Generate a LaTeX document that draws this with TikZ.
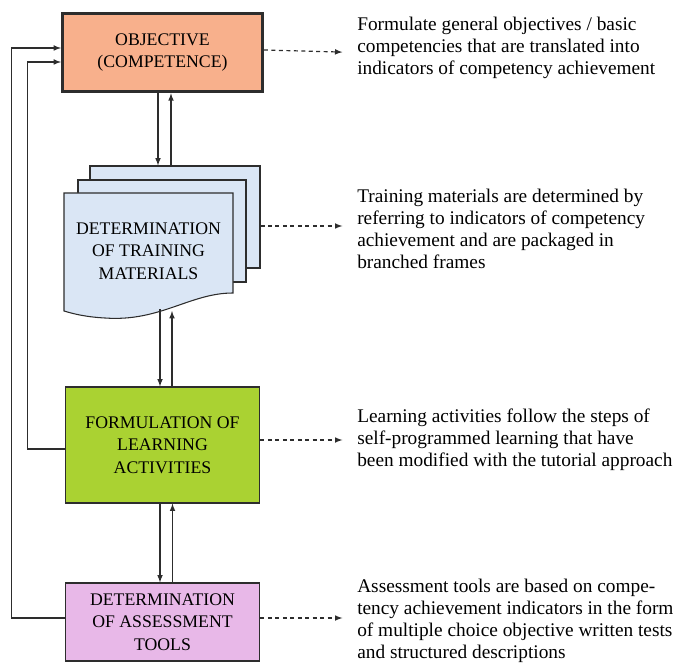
\documentclass[tikz,border=0pt]{standalone}
\usepackage{fontspec}
\setmainfont{Liberation Serif}
\usetikzlibrary{calc}

\definecolor{objfill}{RGB}{248,176,140}
\definecolor{matfill}{RGB}{218,230,245}
\definecolor{actfill}{RGB}{170,210,50}
\definecolor{evalfill}{RGB}{232,184,232}
\definecolor{edge}{RGB}{45,45,45}

\begin{document}
\begin{tikzpicture}[
            x=0.75pt, y=-0.75pt,
            >=latex,
            box/.style={draw=edge, line width=0.9pt, align=center, inner sep=0pt,
                font=\fontsize{13.3}{16.8}\selectfont},
            sheet/.style={draw=edge, line width=0.8pt, fill=matfill},
            flow/.style={->, draw=edge, line width=0.9pt},
            link/.style={->, draw=edge, line width=0.9pt,
                dash pattern=on 3pt off 2.6pt, shorten >=11pt},
            note/.style={anchor=west, align=left, inner sep=0pt,
                font=\fontsize{14.5}{16.5}\selectfont}
        ]
            \useasboundingbox (0,0) rectangle (677,666);

            % --- Objective (competence) ---
            \node[box, line width=2.2pt, fill=objfill, minimum width=150pt, minimum height=59pt]
                (obj) at (162.5,52.5) {OBJECTIVE\\(COMPETENCE)};

            % --- Training materials (stack of sheets) ---
            \node[sheet, minimum width=127.5pt, minimum height=76.5pt] (back) at (175,217) {};
            \node[sheet, minimum width=126pt, minimum height=76.5pt] (middle) at (162,231) {};
            \draw[sheet] (64,193) -- (233,193) -- (233,293)
                .. controls (190,293) and (160,322) .. (105,318)
                .. controls (86,317) and (74,314) .. (64,311) -- cycle;
            \node[box, draw=none] (mat) at (148.5,251) {DETERMINATION\\OF TRAINING\\MATERIALS};
            \coordinate (matbot) at (166,309);

            % --- Learning activities ---
            \node[box, fill=actfill, minimum width=146pt, minimum height=87pt]
                (act) at (162.5,445) {FORMULATION OF\\LEARNING\\ACTIVITIES};

            % --- Assessment tools ---
            \node[box, fill=evalfill, minimum width=146pt, minimum height=58.5pt]
                (eval) at (162.5,622) {DETERMINATION\\OF ASSESSMENT\\TOOLS};

            % --- Arrows down and up between the steps ---
            \draw[flow] ($(obj.south)+(-4.5,0)$) -- ($(obj.south |- back.north)+(-4.5,0)$);
            \draw[flow] ($(obj.south |- back.north)+(8.5,0)$) -- ($(obj.south)+(8.5,0)$);
            \draw[flow] ($(matbot)+(-6,0)$) -- ($(matbot |- act.north)+(-6,0)$);
            \draw[flow] ($(matbot |- act.north)+(6,0)$) -- ($(matbot)+(6,2)$);
            \draw[flow] ($(act.south)+(-2.5,0)$) -- ($(act.south |- eval.north)+(-2.5,0)$);
            \draw[flow] ($(act.south |- eval.north)+(10,0)$) -- ($(act.south)+(10,0)$);

            % --- Feedback lines on the left ---
            \draw[flow] ($(eval.west)+(0,-4)$) -- ++(-53,0) |- ($(obj.west)+(0,-4.5)$);
            \draw[flow] ($(act.west)+(0,4)$) -- ++(-37,0) |- ($(obj.west)+(0,9.5)$);

            % --- Explanations on the right ---
            \node[note] (nobj) at (357,48) {Formulate general objectives / basic\\
                competencies that are translated into\\indicators of competency achievement};
            \node[note] (nmat) at (357,229) {Training materials are determined by\\
                referring to indicators of competency\\achievement and are packaged in\\branched frames};
            \node[note] (nact) at (357,440) {Learning activities follow the steps of\\
                self-programmed learning that have\\been modified with the tutorial approach};
            \node[note] (neval) at (357,621) {Assessment tools are based on compe-\\
                tency achievement indicators in the form\\of multiple choice objective written tests\\and structured descriptions};

            % --- Dashed links ---
            \draw[link] ($(obj.east)+(0,-2.5)$) -- (obj.east -| nobj.west);
            \draw[link] ($(back.east)+(0,9)$) -- ($(back.east -| nmat.west)+(0,9)$);
            \draw[link] ($(act.east)+(0,-5)$) -- ($(act.east -| nact.west)+(0,-5)$);
            \draw[link] ($(eval.east)+(0,-4)$) -- ($(eval.east -| neval.west)+(0,-4)$);

    \end{tikzpicture}
\end{document}
